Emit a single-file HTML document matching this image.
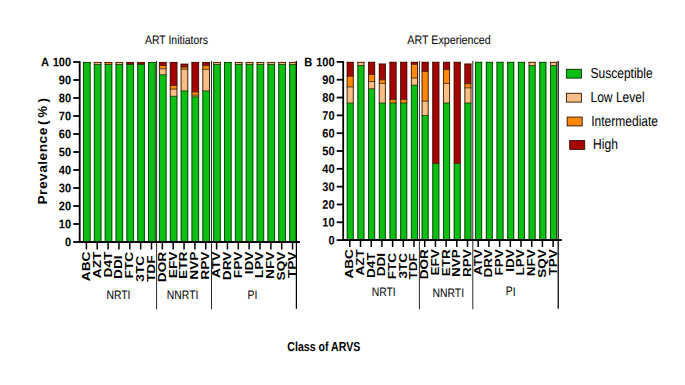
<!DOCTYPE html>
<html><head><meta charset="utf-8"><title>chart</title>
<style>
html,body{margin:0;padding:0;background:#fff;}
svg{display:block;}
text{font-family:"Liberation Sans",sans-serif;fill:#000;}
.yl{font-size:12.4px;font-weight:bold;}
.xl{font-size:11.2px;font-weight:bold;}
.gl{font-size:12.2px;}
.tt{font-size:12.3px;}
.lg{font-size:14.5px;}
.pv{font-size:12px;font-weight:bold;letter-spacing:0.4px;}
.cl{font-size:13px;font-weight:bold;}
</style></head><body>
<svg width="685" height="385" viewBox="0 0 685 385">
<rect width="685" height="385" fill="#fff"/>
<rect x="83.20" y="62.00" width="7.20" height="180.00" fill="#0cbf12"/>
<line x1="83.45" y1="62.00" x2="83.45" y2="242.00" stroke="#073a07" stroke-width="0.9"/>
<line x1="90.15" y1="62.00" x2="90.15" y2="242.00" stroke="#073a07" stroke-width="0.9"/>
<line x1="83.00" y1="62.45" x2="90.60" y2="62.45" stroke="#073a07" stroke-width="0.9"/>
<rect x="94.05" y="63.80" width="7.20" height="178.20" fill="#0cbf12"/>
<rect x="94.05" y="62.00" width="7.20" height="2.34" fill="#f7bf85"/>
<line x1="93.85" y1="64.44" x2="101.45" y2="64.44" stroke="#2a1803" stroke-width="0.75"/>
<line x1="94.30" y1="63.80" x2="94.30" y2="242.00" stroke="#073a07" stroke-width="0.9"/>
<line x1="94.30" y1="62.00" x2="94.30" y2="63.80" stroke="#3a1403" stroke-width="0.9"/>
<line x1="101.00" y1="63.80" x2="101.00" y2="242.00" stroke="#073a07" stroke-width="0.9"/>
<line x1="101.00" y1="62.00" x2="101.00" y2="63.80" stroke="#3a1403" stroke-width="0.9"/>
<line x1="93.85" y1="62.45" x2="101.45" y2="62.45" stroke="#3a1403" stroke-width="0.9"/>
<rect x="104.90" y="63.80" width="7.20" height="178.20" fill="#0cbf12"/>
<rect x="104.90" y="62.00" width="7.20" height="2.34" fill="#ff8808"/>
<line x1="104.70" y1="64.44" x2="112.30" y2="64.44" stroke="#2a1803" stroke-width="0.75"/>
<line x1="105.15" y1="63.80" x2="105.15" y2="242.00" stroke="#073a07" stroke-width="0.9"/>
<line x1="105.15" y1="62.00" x2="105.15" y2="63.80" stroke="#3a1403" stroke-width="0.9"/>
<line x1="111.85" y1="63.80" x2="111.85" y2="242.00" stroke="#073a07" stroke-width="0.9"/>
<line x1="111.85" y1="62.00" x2="111.85" y2="63.80" stroke="#3a1403" stroke-width="0.9"/>
<line x1="104.70" y1="62.45" x2="112.30" y2="62.45" stroke="#3a1403" stroke-width="0.9"/>
<rect x="115.75" y="63.80" width="7.20" height="178.20" fill="#0cbf12"/>
<rect x="115.75" y="62.00" width="7.20" height="2.34" fill="#f7bf85"/>
<line x1="115.55" y1="64.44" x2="123.15" y2="64.44" stroke="#2a1803" stroke-width="0.75"/>
<line x1="116.00" y1="63.80" x2="116.00" y2="242.00" stroke="#073a07" stroke-width="0.9"/>
<line x1="116.00" y1="62.00" x2="116.00" y2="63.80" stroke="#3a1403" stroke-width="0.9"/>
<line x1="122.70" y1="63.80" x2="122.70" y2="242.00" stroke="#073a07" stroke-width="0.9"/>
<line x1="122.70" y1="62.00" x2="122.70" y2="63.80" stroke="#3a1403" stroke-width="0.9"/>
<line x1="115.55" y1="62.45" x2="123.15" y2="62.45" stroke="#3a1403" stroke-width="0.9"/>
<rect x="126.60" y="63.80" width="7.20" height="178.20" fill="#0cbf12"/>
<rect x="126.60" y="62.00" width="7.20" height="2.34" fill="#a60404"/>
<line x1="126.40" y1="64.44" x2="134.00" y2="64.44" stroke="#2a1803" stroke-width="0.75"/>
<line x1="126.85" y1="63.80" x2="126.85" y2="242.00" stroke="#073a07" stroke-width="0.9"/>
<line x1="126.85" y1="62.00" x2="126.85" y2="63.80" stroke="#3a1403" stroke-width="0.9"/>
<line x1="133.55" y1="63.80" x2="133.55" y2="242.00" stroke="#073a07" stroke-width="0.9"/>
<line x1="133.55" y1="62.00" x2="133.55" y2="63.80" stroke="#3a1403" stroke-width="0.9"/>
<line x1="126.40" y1="62.45" x2="134.00" y2="62.45" stroke="#3a1403" stroke-width="0.9"/>
<rect x="137.45" y="63.80" width="7.20" height="178.20" fill="#0cbf12"/>
<rect x="137.45" y="62.00" width="7.20" height="2.34" fill="#a60404"/>
<line x1="137.25" y1="64.44" x2="144.85" y2="64.44" stroke="#2a1803" stroke-width="0.75"/>
<line x1="137.70" y1="63.80" x2="137.70" y2="242.00" stroke="#073a07" stroke-width="0.9"/>
<line x1="137.70" y1="62.00" x2="137.70" y2="63.80" stroke="#3a1403" stroke-width="0.9"/>
<line x1="144.40" y1="63.80" x2="144.40" y2="242.00" stroke="#073a07" stroke-width="0.9"/>
<line x1="144.40" y1="62.00" x2="144.40" y2="63.80" stroke="#3a1403" stroke-width="0.9"/>
<line x1="137.25" y1="62.45" x2="144.85" y2="62.45" stroke="#3a1403" stroke-width="0.9"/>
<rect x="148.30" y="62.00" width="7.20" height="180.00" fill="#0cbf12"/>
<line x1="148.55" y1="62.00" x2="148.55" y2="242.00" stroke="#073a07" stroke-width="0.9"/>
<line x1="155.25" y1="62.00" x2="155.25" y2="242.00" stroke="#073a07" stroke-width="0.9"/>
<line x1="148.10" y1="62.45" x2="155.70" y2="62.45" stroke="#073a07" stroke-width="0.9"/>
<rect x="159.15" y="74.60" width="7.20" height="167.40" fill="#0cbf12"/>
<rect x="159.15" y="68.66" width="7.20" height="5.94" fill="#f7bf85"/>
<rect x="159.15" y="64.70" width="7.20" height="3.96" fill="#ff8808"/>
<rect x="159.15" y="62.00" width="7.20" height="3.42" fill="#a60404"/>
<line x1="158.95" y1="74.70" x2="166.55" y2="74.70" stroke="#2a1803" stroke-width="0.75"/>
<line x1="158.95" y1="68.76" x2="166.55" y2="68.76" stroke="#2a1803" stroke-width="0.75"/>
<line x1="158.95" y1="65.52" x2="166.55" y2="65.52" stroke="#2a1803" stroke-width="0.75"/>
<line x1="159.40" y1="74.60" x2="159.40" y2="242.00" stroke="#073a07" stroke-width="0.9"/>
<line x1="159.40" y1="62.00" x2="159.40" y2="74.60" stroke="#3a1403" stroke-width="0.9"/>
<line x1="166.10" y1="74.60" x2="166.10" y2="242.00" stroke="#073a07" stroke-width="0.9"/>
<line x1="166.10" y1="62.00" x2="166.10" y2="74.60" stroke="#3a1403" stroke-width="0.9"/>
<line x1="158.95" y1="62.45" x2="166.55" y2="62.45" stroke="#3a1403" stroke-width="0.9"/>
<rect x="170.00" y="96.20" width="7.20" height="145.80" fill="#0cbf12"/>
<rect x="170.00" y="89.00" width="7.20" height="7.20" fill="#f7bf85"/>
<rect x="170.00" y="85.40" width="7.20" height="3.60" fill="#ff8808"/>
<rect x="170.00" y="62.00" width="7.20" height="23.40" fill="#a60404"/>
<line x1="169.80" y1="96.30" x2="177.40" y2="96.30" stroke="#2a1803" stroke-width="0.75"/>
<line x1="169.80" y1="89.10" x2="177.40" y2="89.10" stroke="#2a1803" stroke-width="0.75"/>
<line x1="169.80" y1="85.50" x2="177.40" y2="85.50" stroke="#2a1803" stroke-width="0.75"/>
<line x1="170.25" y1="96.20" x2="170.25" y2="242.00" stroke="#073a07" stroke-width="0.9"/>
<line x1="170.25" y1="62.00" x2="170.25" y2="96.20" stroke="#3a1403" stroke-width="0.9"/>
<line x1="176.95" y1="96.20" x2="176.95" y2="242.00" stroke="#073a07" stroke-width="0.9"/>
<line x1="176.95" y1="62.00" x2="176.95" y2="96.20" stroke="#3a1403" stroke-width="0.9"/>
<line x1="169.80" y1="62.45" x2="177.40" y2="62.45" stroke="#3a1403" stroke-width="0.9"/>
<rect x="180.85" y="90.80" width="7.20" height="151.20" fill="#0cbf12"/>
<rect x="180.85" y="68.48" width="7.20" height="22.32" fill="#f7bf85"/>
<rect x="180.85" y="66.32" width="7.20" height="2.77" fill="#ff8808"/>
<rect x="180.85" y="63.80" width="7.20" height="3.20" fill="#a60404"/>
<line x1="180.65" y1="90.90" x2="188.25" y2="90.90" stroke="#2a1803" stroke-width="0.75"/>
<line x1="180.65" y1="69.19" x2="188.25" y2="69.19" stroke="#2a1803" stroke-width="0.75"/>
<line x1="180.65" y1="67.10" x2="188.25" y2="67.10" stroke="#2a1803" stroke-width="0.75"/>
<line x1="181.10" y1="90.80" x2="181.10" y2="242.00" stroke="#073a07" stroke-width="0.9"/>
<line x1="181.10" y1="63.80" x2="181.10" y2="90.80" stroke="#3a1403" stroke-width="0.9"/>
<line x1="187.80" y1="90.80" x2="187.80" y2="242.00" stroke="#073a07" stroke-width="0.9"/>
<line x1="187.80" y1="63.80" x2="187.80" y2="90.80" stroke="#3a1403" stroke-width="0.9"/>
<line x1="180.65" y1="64.25" x2="188.25" y2="64.25" stroke="#3a1403" stroke-width="0.9"/>
<rect x="191.70" y="96.20" width="7.20" height="145.80" fill="#0cbf12"/>
<rect x="191.70" y="94.40" width="7.20" height="2.34" fill="#f7bf85"/>
<rect x="191.70" y="91.88" width="7.20" height="3.20" fill="#ff8808"/>
<rect x="191.70" y="62.00" width="7.20" height="29.88" fill="#a60404"/>
<line x1="191.50" y1="96.84" x2="199.10" y2="96.84" stroke="#2a1803" stroke-width="0.75"/>
<line x1="191.50" y1="95.18" x2="199.10" y2="95.18" stroke="#2a1803" stroke-width="0.75"/>
<line x1="191.50" y1="91.98" x2="199.10" y2="91.98" stroke="#2a1803" stroke-width="0.75"/>
<line x1="191.95" y1="96.20" x2="191.95" y2="242.00" stroke="#073a07" stroke-width="0.9"/>
<line x1="191.95" y1="62.00" x2="191.95" y2="96.20" stroke="#3a1403" stroke-width="0.9"/>
<line x1="198.65" y1="96.20" x2="198.65" y2="242.00" stroke="#073a07" stroke-width="0.9"/>
<line x1="198.65" y1="62.00" x2="198.65" y2="96.20" stroke="#3a1403" stroke-width="0.9"/>
<line x1="191.50" y1="62.45" x2="199.10" y2="62.45" stroke="#3a1403" stroke-width="0.9"/>
<rect x="202.55" y="90.80" width="7.20" height="151.20" fill="#0cbf12"/>
<rect x="202.55" y="68.48" width="7.20" height="22.32" fill="#f7bf85"/>
<rect x="202.55" y="65.60" width="7.20" height="3.64" fill="#ff8808"/>
<rect x="202.55" y="62.00" width="7.20" height="3.60" fill="#a60404"/>
<line x1="202.35" y1="90.90" x2="209.95" y2="90.90" stroke="#2a1803" stroke-width="0.75"/>
<line x1="202.35" y1="69.34" x2="209.95" y2="69.34" stroke="#2a1803" stroke-width="0.75"/>
<line x1="202.35" y1="65.70" x2="209.95" y2="65.70" stroke="#2a1803" stroke-width="0.75"/>
<line x1="202.80" y1="90.80" x2="202.80" y2="242.00" stroke="#073a07" stroke-width="0.9"/>
<line x1="202.80" y1="62.00" x2="202.80" y2="90.80" stroke="#3a1403" stroke-width="0.9"/>
<line x1="209.50" y1="90.80" x2="209.50" y2="242.00" stroke="#073a07" stroke-width="0.9"/>
<line x1="209.50" y1="62.00" x2="209.50" y2="90.80" stroke="#3a1403" stroke-width="0.9"/>
<line x1="202.35" y1="62.45" x2="209.95" y2="62.45" stroke="#3a1403" stroke-width="0.9"/>
<rect x="213.40" y="63.80" width="7.20" height="178.20" fill="#0cbf12"/>
<rect x="213.40" y="62.00" width="7.20" height="2.34" fill="#f7bf85"/>
<line x1="213.20" y1="64.44" x2="220.80" y2="64.44" stroke="#2a1803" stroke-width="0.75"/>
<line x1="213.65" y1="63.80" x2="213.65" y2="242.00" stroke="#073a07" stroke-width="0.9"/>
<line x1="213.65" y1="62.00" x2="213.65" y2="63.80" stroke="#3a1403" stroke-width="0.9"/>
<line x1="220.35" y1="63.80" x2="220.35" y2="242.00" stroke="#073a07" stroke-width="0.9"/>
<line x1="220.35" y1="62.00" x2="220.35" y2="63.80" stroke="#3a1403" stroke-width="0.9"/>
<line x1="213.20" y1="62.45" x2="220.80" y2="62.45" stroke="#3a1403" stroke-width="0.9"/>
<rect x="224.25" y="62.00" width="7.20" height="180.00" fill="#0cbf12"/>
<line x1="224.50" y1="62.00" x2="224.50" y2="242.00" stroke="#073a07" stroke-width="0.9"/>
<line x1="231.20" y1="62.00" x2="231.20" y2="242.00" stroke="#073a07" stroke-width="0.9"/>
<line x1="224.05" y1="62.45" x2="231.65" y2="62.45" stroke="#073a07" stroke-width="0.9"/>
<rect x="235.10" y="63.80" width="7.20" height="178.20" fill="#0cbf12"/>
<rect x="235.10" y="62.00" width="7.20" height="2.34" fill="#f7bf85"/>
<line x1="234.90" y1="64.44" x2="242.50" y2="64.44" stroke="#2a1803" stroke-width="0.75"/>
<line x1="235.35" y1="63.80" x2="235.35" y2="242.00" stroke="#073a07" stroke-width="0.9"/>
<line x1="235.35" y1="62.00" x2="235.35" y2="63.80" stroke="#3a1403" stroke-width="0.9"/>
<line x1="242.05" y1="63.80" x2="242.05" y2="242.00" stroke="#073a07" stroke-width="0.9"/>
<line x1="242.05" y1="62.00" x2="242.05" y2="63.80" stroke="#3a1403" stroke-width="0.9"/>
<line x1="234.90" y1="62.45" x2="242.50" y2="62.45" stroke="#3a1403" stroke-width="0.9"/>
<rect x="245.95" y="63.80" width="7.20" height="178.20" fill="#0cbf12"/>
<rect x="245.95" y="62.00" width="7.20" height="2.34" fill="#f7bf85"/>
<line x1="245.75" y1="64.44" x2="253.35" y2="64.44" stroke="#2a1803" stroke-width="0.75"/>
<line x1="246.20" y1="63.80" x2="246.20" y2="242.00" stroke="#073a07" stroke-width="0.9"/>
<line x1="246.20" y1="62.00" x2="246.20" y2="63.80" stroke="#3a1403" stroke-width="0.9"/>
<line x1="252.90" y1="63.80" x2="252.90" y2="242.00" stroke="#073a07" stroke-width="0.9"/>
<line x1="252.90" y1="62.00" x2="252.90" y2="63.80" stroke="#3a1403" stroke-width="0.9"/>
<line x1="245.75" y1="62.45" x2="253.35" y2="62.45" stroke="#3a1403" stroke-width="0.9"/>
<rect x="256.80" y="63.80" width="7.20" height="178.20" fill="#0cbf12"/>
<rect x="256.80" y="62.00" width="7.20" height="2.34" fill="#f7bf85"/>
<line x1="256.60" y1="64.44" x2="264.20" y2="64.44" stroke="#2a1803" stroke-width="0.75"/>
<line x1="257.05" y1="63.80" x2="257.05" y2="242.00" stroke="#073a07" stroke-width="0.9"/>
<line x1="257.05" y1="62.00" x2="257.05" y2="63.80" stroke="#3a1403" stroke-width="0.9"/>
<line x1="263.75" y1="63.80" x2="263.75" y2="242.00" stroke="#073a07" stroke-width="0.9"/>
<line x1="263.75" y1="62.00" x2="263.75" y2="63.80" stroke="#3a1403" stroke-width="0.9"/>
<line x1="256.60" y1="62.45" x2="264.20" y2="62.45" stroke="#3a1403" stroke-width="0.9"/>
<rect x="267.65" y="63.80" width="7.20" height="178.20" fill="#0cbf12"/>
<rect x="267.65" y="62.00" width="7.20" height="2.34" fill="#f7bf85"/>
<line x1="267.45" y1="64.44" x2="275.05" y2="64.44" stroke="#2a1803" stroke-width="0.75"/>
<line x1="267.90" y1="63.80" x2="267.90" y2="242.00" stroke="#073a07" stroke-width="0.9"/>
<line x1="267.90" y1="62.00" x2="267.90" y2="63.80" stroke="#3a1403" stroke-width="0.9"/>
<line x1="274.60" y1="63.80" x2="274.60" y2="242.00" stroke="#073a07" stroke-width="0.9"/>
<line x1="274.60" y1="62.00" x2="274.60" y2="63.80" stroke="#3a1403" stroke-width="0.9"/>
<line x1="267.45" y1="62.45" x2="275.05" y2="62.45" stroke="#3a1403" stroke-width="0.9"/>
<rect x="278.50" y="63.80" width="7.20" height="178.20" fill="#0cbf12"/>
<rect x="278.50" y="62.00" width="7.20" height="2.34" fill="#f7bf85"/>
<line x1="278.30" y1="64.44" x2="285.90" y2="64.44" stroke="#2a1803" stroke-width="0.75"/>
<line x1="278.75" y1="63.80" x2="278.75" y2="242.00" stroke="#073a07" stroke-width="0.9"/>
<line x1="278.75" y1="62.00" x2="278.75" y2="63.80" stroke="#3a1403" stroke-width="0.9"/>
<line x1="285.45" y1="63.80" x2="285.45" y2="242.00" stroke="#073a07" stroke-width="0.9"/>
<line x1="285.45" y1="62.00" x2="285.45" y2="63.80" stroke="#3a1403" stroke-width="0.9"/>
<line x1="278.30" y1="62.45" x2="285.90" y2="62.45" stroke="#3a1403" stroke-width="0.9"/>
<rect x="289.35" y="63.80" width="7.20" height="178.20" fill="#0cbf12"/>
<rect x="289.35" y="62.00" width="7.20" height="2.34" fill="#f7bf85"/>
<line x1="289.15" y1="64.44" x2="296.75" y2="64.44" stroke="#2a1803" stroke-width="0.75"/>
<line x1="289.60" y1="63.80" x2="289.60" y2="242.00" stroke="#073a07" stroke-width="0.9"/>
<line x1="289.60" y1="62.00" x2="289.60" y2="63.80" stroke="#3a1403" stroke-width="0.9"/>
<line x1="296.30" y1="63.80" x2="296.30" y2="242.00" stroke="#073a07" stroke-width="0.9"/>
<line x1="296.30" y1="62.00" x2="296.30" y2="63.80" stroke="#3a1403" stroke-width="0.9"/>
<line x1="289.15" y1="62.45" x2="296.75" y2="62.45" stroke="#3a1403" stroke-width="0.9"/>
<line x1="79.7" y1="61.10" x2="79.7" y2="242.90" stroke="#000" stroke-width="1.8"/>
<line x1="78.8" y1="241.95" x2="299.9" y2="241.95" stroke="#000" stroke-width="1.9"/>
<line x1="73.2" y1="242.00" x2="79.7" y2="242.00" stroke="#000" stroke-width="1.8"/>
<text transform="translate(71.10,246.30) rotate(0.03) scale(0.89,1)" text-anchor="end" class="yl">0</text>
<line x1="73.2" y1="224.00" x2="79.7" y2="224.00" stroke="#000" stroke-width="1.8"/>
<text transform="translate(71.10,228.30) rotate(0.03) scale(0.89,1)" text-anchor="end" class="yl">10</text>
<line x1="73.2" y1="206.00" x2="79.7" y2="206.00" stroke="#000" stroke-width="1.8"/>
<text transform="translate(71.10,210.30) rotate(0.03) scale(0.89,1)" text-anchor="end" class="yl">20</text>
<line x1="73.2" y1="188.00" x2="79.7" y2="188.00" stroke="#000" stroke-width="1.8"/>
<text transform="translate(71.10,192.30) rotate(0.03) scale(0.89,1)" text-anchor="end" class="yl">30</text>
<line x1="73.2" y1="170.00" x2="79.7" y2="170.00" stroke="#000" stroke-width="1.8"/>
<text transform="translate(71.10,174.30) rotate(0.03) scale(0.89,1)" text-anchor="end" class="yl">40</text>
<line x1="73.2" y1="152.00" x2="79.7" y2="152.00" stroke="#000" stroke-width="1.8"/>
<text transform="translate(71.10,156.30) rotate(0.03) scale(0.89,1)" text-anchor="end" class="yl">50</text>
<line x1="73.2" y1="134.00" x2="79.7" y2="134.00" stroke="#000" stroke-width="1.8"/>
<text transform="translate(71.10,138.30) rotate(0.03) scale(0.89,1)" text-anchor="end" class="yl">60</text>
<line x1="73.2" y1="116.00" x2="79.7" y2="116.00" stroke="#000" stroke-width="1.8"/>
<text transform="translate(71.10,120.30) rotate(0.03) scale(0.89,1)" text-anchor="end" class="yl">70</text>
<line x1="73.2" y1="98.00" x2="79.7" y2="98.00" stroke="#000" stroke-width="1.8"/>
<text transform="translate(71.10,102.30) rotate(0.03) scale(0.89,1)" text-anchor="end" class="yl">80</text>
<line x1="73.2" y1="80.00" x2="79.7" y2="80.00" stroke="#000" stroke-width="1.8"/>
<text transform="translate(71.10,84.30) rotate(0.03) scale(0.89,1)" text-anchor="end" class="yl">90</text>
<line x1="73.2" y1="62.00" x2="79.7" y2="62.00" stroke="#000" stroke-width="1.8"/>
<text transform="translate(71.10,66.30) rotate(0.03) scale(0.89,1)" text-anchor="end" class="yl">100</text>
<line x1="86.40" y1="242.00" x2="86.40" y2="249.50" stroke="#000" stroke-width="1.5"/>
<text transform="translate(89.80,251.50) rotate(-90) scale(1.225,1)" text-anchor="end" class="xl">ABC</text>
<line x1="97.25" y1="242.00" x2="97.25" y2="249.50" stroke="#000" stroke-width="1.5"/>
<text transform="translate(100.65,251.50) rotate(-90) scale(1.225,1)" text-anchor="end" class="xl">AZT</text>
<line x1="108.10" y1="242.00" x2="108.10" y2="249.50" stroke="#000" stroke-width="1.5"/>
<text transform="translate(111.50,251.50) rotate(-90) scale(1.225,1)" text-anchor="end" class="xl">D4T</text>
<line x1="118.95" y1="242.00" x2="118.95" y2="249.50" stroke="#000" stroke-width="1.5"/>
<text transform="translate(122.35,255.40) rotate(-90) scale(1.225,1)" text-anchor="end" class="xl">DDI</text>
<line x1="129.80" y1="242.00" x2="129.80" y2="249.50" stroke="#000" stroke-width="1.5"/>
<text transform="translate(133.20,251.80) rotate(-90) scale(1.225,1)" text-anchor="end" class="xl">FTC</text>
<line x1="140.65" y1="242.00" x2="140.65" y2="249.50" stroke="#000" stroke-width="1.5"/>
<text transform="translate(144.05,255.80) rotate(-90) scale(1.225,1)" text-anchor="end" class="xl">3TC</text>
<line x1="151.50" y1="242.00" x2="151.50" y2="249.50" stroke="#000" stroke-width="1.5"/>
<text transform="translate(154.90,255.40) rotate(-90) scale(1.225,1)" text-anchor="end" class="xl">TDF</text>
<line x1="162.35" y1="242.00" x2="162.35" y2="249.50" stroke="#000" stroke-width="1.5"/>
<text transform="translate(165.75,251.80) rotate(-90) scale(1.225,1)" text-anchor="end" class="xl">DOR</text>
<line x1="173.20" y1="242.00" x2="173.20" y2="249.50" stroke="#000" stroke-width="1.5"/>
<text transform="translate(176.60,251.50) rotate(-90) scale(1.225,1)" text-anchor="end" class="xl">EFV</text>
<line x1="184.05" y1="242.00" x2="184.05" y2="249.50" stroke="#000" stroke-width="1.5"/>
<text transform="translate(187.45,251.50) rotate(-90) scale(1.225,1)" text-anchor="end" class="xl">ETR</text>
<line x1="194.90" y1="242.00" x2="194.90" y2="249.50" stroke="#000" stroke-width="1.5"/>
<text transform="translate(198.30,251.50) rotate(-90) scale(1.225,1)" text-anchor="end" class="xl">NVP</text>
<line x1="205.75" y1="242.00" x2="205.75" y2="249.50" stroke="#000" stroke-width="1.5"/>
<text transform="translate(209.15,251.50) rotate(-90) scale(1.225,1)" text-anchor="end" class="xl">RPV</text>
<line x1="216.60" y1="242.00" x2="216.60" y2="249.50" stroke="#000" stroke-width="1.5"/>
<text transform="translate(220.00,251.50) rotate(-90) scale(1.225,1)" text-anchor="end" class="xl">ATV</text>
<line x1="227.45" y1="242.00" x2="227.45" y2="249.50" stroke="#000" stroke-width="1.5"/>
<text transform="translate(230.85,251.50) rotate(-90) scale(1.225,1)" text-anchor="end" class="xl">DRV</text>
<line x1="238.30" y1="242.00" x2="238.30" y2="249.50" stroke="#000" stroke-width="1.5"/>
<text transform="translate(241.70,251.50) rotate(-90) scale(1.225,1)" text-anchor="end" class="xl">FPV</text>
<line x1="249.15" y1="242.00" x2="249.15" y2="249.50" stroke="#000" stroke-width="1.5"/>
<text transform="translate(252.55,251.50) rotate(-90) scale(1.225,1)" text-anchor="end" class="xl">IDV</text>
<line x1="260.00" y1="242.00" x2="260.00" y2="249.50" stroke="#000" stroke-width="1.5"/>
<text transform="translate(263.40,251.50) rotate(-90) scale(1.225,1)" text-anchor="end" class="xl">LPV</text>
<line x1="270.85" y1="242.00" x2="270.85" y2="249.50" stroke="#000" stroke-width="1.5"/>
<text transform="translate(274.25,251.50) rotate(-90) scale(1.225,1)" text-anchor="end" class="xl">NFV</text>
<line x1="281.70" y1="242.00" x2="281.70" y2="249.50" stroke="#000" stroke-width="1.5"/>
<text transform="translate(285.10,251.50) rotate(-90) scale(1.225,1)" text-anchor="end" class="xl">SQV</text>
<line x1="292.55" y1="242.00" x2="292.55" y2="249.50" stroke="#000" stroke-width="1.5"/>
<text transform="translate(295.95,251.50) rotate(-90) scale(1.225,1)" text-anchor="end" class="xl">TPV</text>
<line x1="156.60" y1="61" x2="156.60" y2="309.3" stroke="#111" stroke-width="0.9"/>
<line x1="211.50" y1="61" x2="211.50" y2="309.3" stroke="#111" stroke-width="0.9"/>
<line x1="296.40" y1="61" x2="296.40" y2="308.8" stroke="#000" stroke-width="1.25"/>
<text transform="translate(118.50,298.70) rotate(0.03) scale(0.85,1)" text-anchor="middle" class="gl">NRTI</text>
<text transform="translate(182.60,298.70) rotate(0.03) scale(0.85,1)" text-anchor="middle" class="gl">NNRTI</text>
<text transform="translate(252.50,298.70) rotate(0.03) scale(0.85,1)" text-anchor="middle" class="gl">PI</text>
<text transform="translate(40.90,66.30) rotate(0.03) scale(0.9,1)" text-anchor="start" class="yl">A</text>
<text transform="translate(176.50,44.40) rotate(0.03) scale(0.85,1)" text-anchor="middle" class="tt">ART Initiators</text>
<rect x="346.90" y="102.89" width="6.65" height="137.21" fill="#0cbf12"/>
<rect x="346.90" y="86.85" width="6.65" height="16.04" fill="#f7bf85"/>
<rect x="346.90" y="76.16" width="6.65" height="10.69" fill="#ff8808"/>
<rect x="346.90" y="61.90" width="6.65" height="14.26" fill="#a60404"/>
<line x1="346.70" y1="102.99" x2="353.75" y2="102.99" stroke="#2a1803" stroke-width="0.75"/>
<line x1="346.70" y1="86.95" x2="353.75" y2="86.95" stroke="#2a1803" stroke-width="0.75"/>
<line x1="346.70" y1="76.26" x2="353.75" y2="76.26" stroke="#2a1803" stroke-width="0.75"/>
<line x1="347.15" y1="102.89" x2="347.15" y2="240.10" stroke="#073a07" stroke-width="0.9"/>
<line x1="347.15" y1="61.90" x2="347.15" y2="102.89" stroke="#3a1403" stroke-width="0.9"/>
<line x1="353.30" y1="102.89" x2="353.30" y2="240.10" stroke="#073a07" stroke-width="0.9"/>
<line x1="353.30" y1="61.90" x2="353.30" y2="102.89" stroke="#3a1403" stroke-width="0.9"/>
<line x1="346.70" y1="62.35" x2="353.75" y2="62.35" stroke="#3a1403" stroke-width="0.9"/>
<rect x="357.60" y="65.46" width="6.65" height="174.64" fill="#0cbf12"/>
<rect x="357.60" y="61.90" width="6.65" height="3.56" fill="#f7bf85"/>
<line x1="357.40" y1="65.56" x2="364.45" y2="65.56" stroke="#2a1803" stroke-width="0.75"/>
<line x1="357.85" y1="65.46" x2="357.85" y2="240.10" stroke="#073a07" stroke-width="0.9"/>
<line x1="357.85" y1="61.90" x2="357.85" y2="65.46" stroke="#3a1403" stroke-width="0.9"/>
<line x1="364.00" y1="65.46" x2="364.00" y2="240.10" stroke="#073a07" stroke-width="0.9"/>
<line x1="364.00" y1="61.90" x2="364.00" y2="65.46" stroke="#3a1403" stroke-width="0.9"/>
<line x1="357.40" y1="62.35" x2="364.45" y2="62.35" stroke="#3a1403" stroke-width="0.9"/>
<rect x="368.30" y="88.63" width="6.65" height="151.47" fill="#0cbf12"/>
<rect x="368.30" y="81.50" width="6.65" height="7.13" fill="#f7bf85"/>
<rect x="368.30" y="74.37" width="6.65" height="7.13" fill="#ff8808"/>
<rect x="368.30" y="61.90" width="6.65" height="12.47" fill="#a60404"/>
<line x1="368.10" y1="88.73" x2="375.15" y2="88.73" stroke="#2a1803" stroke-width="0.75"/>
<line x1="368.10" y1="81.60" x2="375.15" y2="81.60" stroke="#2a1803" stroke-width="0.75"/>
<line x1="368.10" y1="74.47" x2="375.15" y2="74.47" stroke="#2a1803" stroke-width="0.75"/>
<line x1="368.55" y1="88.63" x2="368.55" y2="240.10" stroke="#073a07" stroke-width="0.9"/>
<line x1="368.55" y1="61.90" x2="368.55" y2="88.63" stroke="#3a1403" stroke-width="0.9"/>
<line x1="374.70" y1="88.63" x2="374.70" y2="240.10" stroke="#073a07" stroke-width="0.9"/>
<line x1="374.70" y1="61.90" x2="374.70" y2="88.63" stroke="#3a1403" stroke-width="0.9"/>
<line x1="368.10" y1="62.35" x2="375.15" y2="62.35" stroke="#3a1403" stroke-width="0.9"/>
<rect x="379.00" y="102.89" width="6.65" height="137.21" fill="#0cbf12"/>
<rect x="379.00" y="83.28" width="6.65" height="19.60" fill="#f7bf85"/>
<rect x="379.00" y="79.72" width="6.65" height="3.56" fill="#ff8808"/>
<rect x="379.00" y="63.68" width="6.65" height="16.04" fill="#a60404"/>
<line x1="378.80" y1="102.99" x2="385.85" y2="102.99" stroke="#2a1803" stroke-width="0.75"/>
<line x1="378.80" y1="83.38" x2="385.85" y2="83.38" stroke="#2a1803" stroke-width="0.75"/>
<line x1="378.80" y1="79.82" x2="385.85" y2="79.82" stroke="#2a1803" stroke-width="0.75"/>
<line x1="379.25" y1="102.89" x2="379.25" y2="240.10" stroke="#073a07" stroke-width="0.9"/>
<line x1="379.25" y1="63.68" x2="379.25" y2="102.89" stroke="#3a1403" stroke-width="0.9"/>
<line x1="385.40" y1="102.89" x2="385.40" y2="240.10" stroke="#073a07" stroke-width="0.9"/>
<line x1="385.40" y1="63.68" x2="385.40" y2="102.89" stroke="#3a1403" stroke-width="0.9"/>
<line x1="378.80" y1="64.13" x2="385.85" y2="64.13" stroke="#3a1403" stroke-width="0.9"/>
<rect x="389.70" y="102.89" width="6.65" height="137.21" fill="#0cbf12"/>
<rect x="389.70" y="99.32" width="6.65" height="3.56" fill="#ff8808"/>
<rect x="389.70" y="61.90" width="6.65" height="37.42" fill="#a60404"/>
<line x1="389.50" y1="102.99" x2="396.55" y2="102.99" stroke="#2a1803" stroke-width="0.75"/>
<line x1="389.50" y1="99.42" x2="396.55" y2="99.42" stroke="#2a1803" stroke-width="0.75"/>
<line x1="389.95" y1="102.89" x2="389.95" y2="240.10" stroke="#073a07" stroke-width="0.9"/>
<line x1="389.95" y1="61.90" x2="389.95" y2="102.89" stroke="#3a1403" stroke-width="0.9"/>
<line x1="396.10" y1="102.89" x2="396.10" y2="240.10" stroke="#073a07" stroke-width="0.9"/>
<line x1="396.10" y1="61.90" x2="396.10" y2="102.89" stroke="#3a1403" stroke-width="0.9"/>
<line x1="389.50" y1="62.35" x2="396.55" y2="62.35" stroke="#3a1403" stroke-width="0.9"/>
<rect x="400.40" y="102.89" width="6.65" height="137.21" fill="#0cbf12"/>
<rect x="400.40" y="99.32" width="6.65" height="3.56" fill="#ff8808"/>
<rect x="400.40" y="61.90" width="6.65" height="37.42" fill="#a60404"/>
<line x1="400.20" y1="102.99" x2="407.25" y2="102.99" stroke="#2a1803" stroke-width="0.75"/>
<line x1="400.20" y1="99.42" x2="407.25" y2="99.42" stroke="#2a1803" stroke-width="0.75"/>
<line x1="400.65" y1="102.89" x2="400.65" y2="240.10" stroke="#073a07" stroke-width="0.9"/>
<line x1="400.65" y1="61.90" x2="400.65" y2="102.89" stroke="#3a1403" stroke-width="0.9"/>
<line x1="406.80" y1="102.89" x2="406.80" y2="240.10" stroke="#073a07" stroke-width="0.9"/>
<line x1="406.80" y1="61.90" x2="406.80" y2="102.89" stroke="#3a1403" stroke-width="0.9"/>
<line x1="400.20" y1="62.35" x2="407.25" y2="62.35" stroke="#3a1403" stroke-width="0.9"/>
<rect x="411.10" y="85.07" width="6.65" height="155.03" fill="#0cbf12"/>
<rect x="411.10" y="77.94" width="6.65" height="7.13" fill="#f7bf85"/>
<rect x="411.10" y="63.68" width="6.65" height="14.26" fill="#ff8808"/>
<rect x="411.10" y="61.90" width="6.65" height="2.32" fill="#a60404"/>
<line x1="410.90" y1="85.17" x2="417.95" y2="85.17" stroke="#2a1803" stroke-width="0.75"/>
<line x1="410.90" y1="78.04" x2="417.95" y2="78.04" stroke="#2a1803" stroke-width="0.75"/>
<line x1="410.90" y1="64.32" x2="417.95" y2="64.32" stroke="#2a1803" stroke-width="0.75"/>
<line x1="411.35" y1="85.07" x2="411.35" y2="240.10" stroke="#073a07" stroke-width="0.9"/>
<line x1="411.35" y1="61.90" x2="411.35" y2="85.07" stroke="#3a1403" stroke-width="0.9"/>
<line x1="417.50" y1="85.07" x2="417.50" y2="240.10" stroke="#073a07" stroke-width="0.9"/>
<line x1="417.50" y1="61.90" x2="417.50" y2="85.07" stroke="#3a1403" stroke-width="0.9"/>
<line x1="410.90" y1="62.35" x2="417.95" y2="62.35" stroke="#3a1403" stroke-width="0.9"/>
<rect x="421.80" y="115.36" width="6.65" height="124.74" fill="#0cbf12"/>
<rect x="421.80" y="101.10" width="6.65" height="14.26" fill="#f7bf85"/>
<rect x="421.80" y="71.34" width="6.65" height="29.76" fill="#ff8808"/>
<rect x="421.80" y="61.90" width="6.65" height="9.44" fill="#a60404"/>
<line x1="421.60" y1="115.46" x2="428.65" y2="115.46" stroke="#2a1803" stroke-width="0.75"/>
<line x1="421.60" y1="101.20" x2="428.65" y2="101.20" stroke="#2a1803" stroke-width="0.75"/>
<line x1="421.60" y1="71.44" x2="428.65" y2="71.44" stroke="#2a1803" stroke-width="0.75"/>
<line x1="422.05" y1="115.36" x2="422.05" y2="240.10" stroke="#073a07" stroke-width="0.9"/>
<line x1="422.05" y1="61.90" x2="422.05" y2="115.36" stroke="#3a1403" stroke-width="0.9"/>
<line x1="428.20" y1="115.36" x2="428.20" y2="240.10" stroke="#073a07" stroke-width="0.9"/>
<line x1="428.20" y1="61.90" x2="428.20" y2="115.36" stroke="#3a1403" stroke-width="0.9"/>
<line x1="421.60" y1="62.35" x2="428.65" y2="62.35" stroke="#3a1403" stroke-width="0.9"/>
<rect x="432.50" y="163.47" width="6.65" height="76.63" fill="#0cbf12"/>
<rect x="432.50" y="61.90" width="6.65" height="101.57" fill="#a60404"/>
<line x1="432.30" y1="163.57" x2="439.35" y2="163.57" stroke="#2a1803" stroke-width="0.75"/>
<line x1="432.75" y1="163.47" x2="432.75" y2="240.10" stroke="#073a07" stroke-width="0.9"/>
<line x1="432.75" y1="61.90" x2="432.75" y2="163.47" stroke="#3a1403" stroke-width="0.9"/>
<line x1="438.90" y1="163.47" x2="438.90" y2="240.10" stroke="#073a07" stroke-width="0.9"/>
<line x1="438.90" y1="61.90" x2="438.90" y2="163.47" stroke="#3a1403" stroke-width="0.9"/>
<line x1="432.30" y1="62.35" x2="439.35" y2="62.35" stroke="#3a1403" stroke-width="0.9"/>
<rect x="443.20" y="102.89" width="6.65" height="137.21" fill="#0cbf12"/>
<rect x="443.20" y="83.28" width="6.65" height="19.60" fill="#f7bf85"/>
<rect x="443.20" y="69.56" width="6.65" height="13.72" fill="#ff8808"/>
<rect x="443.20" y="61.90" width="6.65" height="7.66" fill="#a60404"/>
<line x1="443.00" y1="102.99" x2="450.05" y2="102.99" stroke="#2a1803" stroke-width="0.75"/>
<line x1="443.00" y1="83.38" x2="450.05" y2="83.38" stroke="#2a1803" stroke-width="0.75"/>
<line x1="443.00" y1="69.66" x2="450.05" y2="69.66" stroke="#2a1803" stroke-width="0.75"/>
<line x1="443.45" y1="102.89" x2="443.45" y2="240.10" stroke="#073a07" stroke-width="0.9"/>
<line x1="443.45" y1="61.90" x2="443.45" y2="102.89" stroke="#3a1403" stroke-width="0.9"/>
<line x1="449.60" y1="102.89" x2="449.60" y2="240.10" stroke="#073a07" stroke-width="0.9"/>
<line x1="449.60" y1="61.90" x2="449.60" y2="102.89" stroke="#3a1403" stroke-width="0.9"/>
<line x1="443.00" y1="62.35" x2="450.05" y2="62.35" stroke="#3a1403" stroke-width="0.9"/>
<rect x="453.90" y="163.47" width="6.65" height="76.63" fill="#0cbf12"/>
<rect x="453.90" y="61.90" width="6.65" height="101.57" fill="#a60404"/>
<line x1="453.70" y1="163.57" x2="460.75" y2="163.57" stroke="#2a1803" stroke-width="0.75"/>
<line x1="454.15" y1="163.47" x2="454.15" y2="240.10" stroke="#073a07" stroke-width="0.9"/>
<line x1="454.15" y1="61.90" x2="454.15" y2="163.47" stroke="#3a1403" stroke-width="0.9"/>
<line x1="460.30" y1="163.47" x2="460.30" y2="240.10" stroke="#073a07" stroke-width="0.9"/>
<line x1="460.30" y1="61.90" x2="460.30" y2="163.47" stroke="#3a1403" stroke-width="0.9"/>
<line x1="453.70" y1="62.35" x2="460.75" y2="62.35" stroke="#3a1403" stroke-width="0.9"/>
<rect x="464.60" y="102.89" width="6.65" height="137.21" fill="#0cbf12"/>
<rect x="464.60" y="87.74" width="6.65" height="15.15" fill="#f7bf85"/>
<rect x="464.60" y="83.64" width="6.65" height="4.10" fill="#ff8808"/>
<rect x="464.60" y="63.68" width="6.65" height="19.96" fill="#a60404"/>
<line x1="464.40" y1="102.99" x2="471.45" y2="102.99" stroke="#2a1803" stroke-width="0.75"/>
<line x1="464.40" y1="87.84" x2="471.45" y2="87.84" stroke="#2a1803" stroke-width="0.75"/>
<line x1="464.40" y1="83.74" x2="471.45" y2="83.74" stroke="#2a1803" stroke-width="0.75"/>
<line x1="464.85" y1="102.89" x2="464.85" y2="240.10" stroke="#073a07" stroke-width="0.9"/>
<line x1="464.85" y1="63.68" x2="464.85" y2="102.89" stroke="#3a1403" stroke-width="0.9"/>
<line x1="471.00" y1="102.89" x2="471.00" y2="240.10" stroke="#073a07" stroke-width="0.9"/>
<line x1="471.00" y1="63.68" x2="471.00" y2="102.89" stroke="#3a1403" stroke-width="0.9"/>
<line x1="464.40" y1="64.13" x2="471.45" y2="64.13" stroke="#3a1403" stroke-width="0.9"/>
<rect x="475.30" y="61.90" width="6.65" height="178.20" fill="#0cbf12"/>
<line x1="475.55" y1="61.90" x2="475.55" y2="240.10" stroke="#073a07" stroke-width="0.9"/>
<line x1="481.70" y1="61.90" x2="481.70" y2="240.10" stroke="#073a07" stroke-width="0.9"/>
<line x1="475.10" y1="62.35" x2="482.15" y2="62.35" stroke="#073a07" stroke-width="0.9"/>
<rect x="486.00" y="61.90" width="6.65" height="178.20" fill="#0cbf12"/>
<line x1="486.25" y1="61.90" x2="486.25" y2="240.10" stroke="#073a07" stroke-width="0.9"/>
<line x1="492.40" y1="61.90" x2="492.40" y2="240.10" stroke="#073a07" stroke-width="0.9"/>
<line x1="485.80" y1="62.35" x2="492.85" y2="62.35" stroke="#073a07" stroke-width="0.9"/>
<rect x="496.70" y="61.90" width="6.65" height="178.20" fill="#0cbf12"/>
<line x1="496.95" y1="61.90" x2="496.95" y2="240.10" stroke="#073a07" stroke-width="0.9"/>
<line x1="503.10" y1="61.90" x2="503.10" y2="240.10" stroke="#073a07" stroke-width="0.9"/>
<line x1="496.50" y1="62.35" x2="503.55" y2="62.35" stroke="#073a07" stroke-width="0.9"/>
<rect x="507.40" y="61.90" width="6.65" height="178.20" fill="#0cbf12"/>
<line x1="507.65" y1="61.90" x2="507.65" y2="240.10" stroke="#073a07" stroke-width="0.9"/>
<line x1="513.80" y1="61.90" x2="513.80" y2="240.10" stroke="#073a07" stroke-width="0.9"/>
<line x1="507.20" y1="62.35" x2="514.25" y2="62.35" stroke="#073a07" stroke-width="0.9"/>
<rect x="518.10" y="61.90" width="6.65" height="178.20" fill="#0cbf12"/>
<line x1="518.35" y1="61.90" x2="518.35" y2="240.10" stroke="#073a07" stroke-width="0.9"/>
<line x1="524.50" y1="61.90" x2="524.50" y2="240.10" stroke="#073a07" stroke-width="0.9"/>
<line x1="517.90" y1="62.35" x2="524.95" y2="62.35" stroke="#073a07" stroke-width="0.9"/>
<rect x="528.80" y="65.46" width="6.65" height="174.64" fill="#0cbf12"/>
<rect x="528.80" y="61.90" width="6.65" height="3.56" fill="#f7bf85"/>
<line x1="528.60" y1="65.56" x2="535.65" y2="65.56" stroke="#2a1803" stroke-width="0.75"/>
<line x1="529.05" y1="65.46" x2="529.05" y2="240.10" stroke="#073a07" stroke-width="0.9"/>
<line x1="529.05" y1="61.90" x2="529.05" y2="65.46" stroke="#3a1403" stroke-width="0.9"/>
<line x1="535.20" y1="65.46" x2="535.20" y2="240.10" stroke="#073a07" stroke-width="0.9"/>
<line x1="535.20" y1="61.90" x2="535.20" y2="65.46" stroke="#3a1403" stroke-width="0.9"/>
<line x1="528.60" y1="62.35" x2="535.65" y2="62.35" stroke="#3a1403" stroke-width="0.9"/>
<rect x="539.50" y="61.90" width="6.65" height="178.20" fill="#0cbf12"/>
<line x1="539.75" y1="61.90" x2="539.75" y2="240.10" stroke="#073a07" stroke-width="0.9"/>
<line x1="545.90" y1="61.90" x2="545.90" y2="240.10" stroke="#073a07" stroke-width="0.9"/>
<line x1="539.30" y1="62.35" x2="546.35" y2="62.35" stroke="#073a07" stroke-width="0.9"/>
<rect x="550.20" y="65.46" width="6.65" height="174.64" fill="#0cbf12"/>
<rect x="550.20" y="61.90" width="6.65" height="3.56" fill="#f7bf85"/>
<line x1="550.00" y1="65.56" x2="557.05" y2="65.56" stroke="#2a1803" stroke-width="0.75"/>
<line x1="550.45" y1="65.46" x2="550.45" y2="240.10" stroke="#073a07" stroke-width="0.9"/>
<line x1="550.45" y1="61.90" x2="550.45" y2="65.46" stroke="#3a1403" stroke-width="0.9"/>
<line x1="556.60" y1="65.46" x2="556.60" y2="240.10" stroke="#073a07" stroke-width="0.9"/>
<line x1="556.60" y1="61.90" x2="556.60" y2="65.46" stroke="#3a1403" stroke-width="0.9"/>
<line x1="550.00" y1="62.35" x2="557.05" y2="62.35" stroke="#3a1403" stroke-width="0.9"/>
<line x1="343.2" y1="61.00" x2="343.2" y2="241.00" stroke="#000" stroke-width="1.8"/>
<line x1="342.3" y1="240.05" x2="561.7" y2="240.05" stroke="#000" stroke-width="1.9"/>
<line x1="336.7" y1="240.10" x2="343.2" y2="240.10" stroke="#000" stroke-width="1.8"/>
<text transform="translate(334.60,244.40) rotate(0.03) scale(0.89,1)" text-anchor="end" class="yl">0</text>
<line x1="336.7" y1="222.28" x2="343.2" y2="222.28" stroke="#000" stroke-width="1.8"/>
<text transform="translate(334.60,226.58) rotate(0.03) scale(0.89,1)" text-anchor="end" class="yl">10</text>
<line x1="336.7" y1="204.46" x2="343.2" y2="204.46" stroke="#000" stroke-width="1.8"/>
<text transform="translate(334.60,208.76) rotate(0.03) scale(0.89,1)" text-anchor="end" class="yl">20</text>
<line x1="336.7" y1="186.64" x2="343.2" y2="186.64" stroke="#000" stroke-width="1.8"/>
<text transform="translate(334.60,190.94) rotate(0.03) scale(0.89,1)" text-anchor="end" class="yl">30</text>
<line x1="336.7" y1="168.82" x2="343.2" y2="168.82" stroke="#000" stroke-width="1.8"/>
<text transform="translate(334.60,173.12) rotate(0.03) scale(0.89,1)" text-anchor="end" class="yl">40</text>
<line x1="336.7" y1="151.00" x2="343.2" y2="151.00" stroke="#000" stroke-width="1.8"/>
<text transform="translate(334.60,155.30) rotate(0.03) scale(0.89,1)" text-anchor="end" class="yl">50</text>
<line x1="336.7" y1="133.18" x2="343.2" y2="133.18" stroke="#000" stroke-width="1.8"/>
<text transform="translate(334.60,137.48) rotate(0.03) scale(0.89,1)" text-anchor="end" class="yl">60</text>
<line x1="336.7" y1="115.36" x2="343.2" y2="115.36" stroke="#000" stroke-width="1.8"/>
<text transform="translate(334.60,119.66) rotate(0.03) scale(0.89,1)" text-anchor="end" class="yl">70</text>
<line x1="336.7" y1="97.54" x2="343.2" y2="97.54" stroke="#000" stroke-width="1.8"/>
<text transform="translate(334.60,101.84) rotate(0.03) scale(0.89,1)" text-anchor="end" class="yl">80</text>
<line x1="336.7" y1="79.72" x2="343.2" y2="79.72" stroke="#000" stroke-width="1.8"/>
<text transform="translate(334.60,84.02) rotate(0.03) scale(0.89,1)" text-anchor="end" class="yl">90</text>
<line x1="336.7" y1="61.90" x2="343.2" y2="61.90" stroke="#000" stroke-width="1.8"/>
<text transform="translate(334.60,66.20) rotate(0.03) scale(0.89,1)" text-anchor="end" class="yl">100</text>
<line x1="349.82" y1="240.10" x2="349.82" y2="247.00" stroke="#000" stroke-width="1.5"/>
<text transform="translate(353.22,249.20) rotate(-90) scale(1.21,1)" text-anchor="end" class="xl">ABC</text>
<line x1="360.52" y1="240.10" x2="360.52" y2="247.00" stroke="#000" stroke-width="1.5"/>
<text transform="translate(363.92,249.20) rotate(-90) scale(1.21,1)" text-anchor="end" class="xl">AZT</text>
<line x1="371.22" y1="240.10" x2="371.22" y2="247.00" stroke="#000" stroke-width="1.5"/>
<text transform="translate(374.62,252.40) rotate(-90) scale(1.21,1)" text-anchor="end" class="xl">D4T</text>
<line x1="381.92" y1="240.10" x2="381.92" y2="247.00" stroke="#000" stroke-width="1.5"/>
<text transform="translate(385.32,252.90) rotate(-90) scale(1.21,1)" text-anchor="end" class="xl">DDI</text>
<line x1="392.62" y1="240.10" x2="392.62" y2="247.00" stroke="#000" stroke-width="1.5"/>
<text transform="translate(396.02,252.90) rotate(-90) scale(1.21,1)" text-anchor="end" class="xl">FTC</text>
<line x1="403.32" y1="240.10" x2="403.32" y2="247.00" stroke="#000" stroke-width="1.5"/>
<text transform="translate(406.72,252.90) rotate(-90) scale(1.21,1)" text-anchor="end" class="xl">3TC</text>
<line x1="414.02" y1="240.10" x2="414.02" y2="247.00" stroke="#000" stroke-width="1.5"/>
<text transform="translate(417.42,253.20) rotate(-90) scale(1.21,1)" text-anchor="end" class="xl">TDF</text>
<line x1="424.72" y1="240.10" x2="424.72" y2="247.00" stroke="#000" stroke-width="1.5"/>
<text transform="translate(428.12,249.20) rotate(-90) scale(1.21,1)" text-anchor="end" class="xl">DOR</text>
<line x1="435.42" y1="240.10" x2="435.42" y2="247.00" stroke="#000" stroke-width="1.5"/>
<text transform="translate(438.82,249.20) rotate(-90) scale(1.21,1)" text-anchor="end" class="xl">EFV</text>
<line x1="446.12" y1="240.10" x2="446.12" y2="247.00" stroke="#000" stroke-width="1.5"/>
<text transform="translate(449.52,249.20) rotate(-90) scale(1.21,1)" text-anchor="end" class="xl">ETR</text>
<line x1="456.82" y1="240.10" x2="456.82" y2="247.00" stroke="#000" stroke-width="1.5"/>
<text transform="translate(460.22,249.20) rotate(-90) scale(1.21,1)" text-anchor="end" class="xl">NVP</text>
<line x1="467.52" y1="240.10" x2="467.52" y2="247.00" stroke="#000" stroke-width="1.5"/>
<text transform="translate(470.92,249.20) rotate(-90) scale(1.21,1)" text-anchor="end" class="xl">RPV</text>
<line x1="478.22" y1="240.10" x2="478.22" y2="247.00" stroke="#000" stroke-width="1.5"/>
<text transform="translate(481.62,249.20) rotate(-90) scale(1.21,1)" text-anchor="end" class="xl">ATV</text>
<line x1="488.92" y1="240.10" x2="488.92" y2="247.00" stroke="#000" stroke-width="1.5"/>
<text transform="translate(492.32,249.20) rotate(-90) scale(1.21,1)" text-anchor="end" class="xl">DRV</text>
<line x1="499.62" y1="240.10" x2="499.62" y2="247.00" stroke="#000" stroke-width="1.5"/>
<text transform="translate(503.02,249.20) rotate(-90) scale(1.21,1)" text-anchor="end" class="xl">FPV</text>
<line x1="510.32" y1="240.10" x2="510.32" y2="247.00" stroke="#000" stroke-width="1.5"/>
<text transform="translate(513.73,249.20) rotate(-90) scale(1.21,1)" text-anchor="end" class="xl">IDV</text>
<line x1="521.02" y1="240.10" x2="521.02" y2="247.00" stroke="#000" stroke-width="1.5"/>
<text transform="translate(524.42,249.20) rotate(-90) scale(1.21,1)" text-anchor="end" class="xl">LPV</text>
<line x1="531.72" y1="240.10" x2="531.72" y2="247.00" stroke="#000" stroke-width="1.5"/>
<text transform="translate(535.12,249.20) rotate(-90) scale(1.21,1)" text-anchor="end" class="xl">NFV</text>
<line x1="542.42" y1="240.10" x2="542.42" y2="247.00" stroke="#000" stroke-width="1.5"/>
<text transform="translate(545.82,249.20) rotate(-90) scale(1.21,1)" text-anchor="end" class="xl">SQV</text>
<line x1="553.12" y1="240.10" x2="553.12" y2="247.00" stroke="#000" stroke-width="1.5"/>
<text transform="translate(556.52,249.20) rotate(-90) scale(1.21,1)" text-anchor="end" class="xl">TPV</text>
<line x1="419.40" y1="61" x2="419.40" y2="309.3" stroke="#111" stroke-width="0.9"/>
<line x1="472.80" y1="61" x2="472.80" y2="309.3" stroke="#111" stroke-width="0.9"/>
<line x1="558.20" y1="61" x2="558.20" y2="308.8" stroke="#000" stroke-width="1.25"/>
<text transform="translate(383.70,295.90) rotate(0.03) scale(0.85,1)" text-anchor="middle" class="gl">NRTI</text>
<text transform="translate(448.30,297.30) rotate(0.03) scale(0.85,1)" text-anchor="middle" class="gl">NNRTI</text>
<text transform="translate(510.70,295.50) rotate(0.03) scale(0.85,1)" text-anchor="middle" class="gl">PI</text>
<text transform="translate(304.30,66.30) rotate(0.03) scale(0.9,1)" text-anchor="start" class="yl">B</text>
<text transform="translate(449.00,44.40) rotate(0.03) scale(0.872,1)" text-anchor="middle" class="tt">ART Experienced</text>
<rect x="566.4" y="69.3" width="15" height="8.8" fill="#0cbf12" stroke="#052a05" stroke-width="0.9"/>
<text transform="translate(590.50,77.70) rotate(0.03) scale(0.83,1)" text-anchor="start" class="lg">Susceptible</text>
<rect x="566.4" y="93.3" width="15" height="8.8" fill="#f7bf85" stroke="#2a1205" stroke-width="0.9"/>
<text transform="translate(590.50,102.05) rotate(0.03) scale(0.83,1)" text-anchor="start" class="lg">Low Level</text>
<rect x="567.2" y="117.1" width="15" height="8.8" fill="#ff8808" stroke="#2a1205" stroke-width="0.9"/>
<text transform="translate(591.20,125.50) rotate(0.03) scale(0.83,1)" text-anchor="start" class="lg">Intermediate</text>
<rect x="569.7" y="140.6" width="15" height="8.8" fill="#a60404" stroke="#2a1205" stroke-width="0.9"/>
<text transform="translate(593.10,149.20) rotate(0.03) scale(0.83,1)" text-anchor="start" class="lg">High</text>
<text transform="translate(46.60,204.60) rotate(-90) scale(1.15,1)" text-anchor="start" class="pv">Prevalence</text>
<text transform="translate(46.60,124.90) rotate(-90) scale(1.1,1)" text-anchor="start" class="pv">(</text>
<text transform="translate(46.60,117.60) rotate(-90) scale(1.08,1)" text-anchor="start" class="pv">%</text>
<text transform="translate(46.60,102.60) rotate(-90) scale(1.1,1)" text-anchor="start" class="pv">)</text>
<text transform="translate(323.80,351.20) rotate(0.03) scale(0.815,1)" text-anchor="middle" class="cl">Class of ARVS</text>
</svg>
</body></html>
